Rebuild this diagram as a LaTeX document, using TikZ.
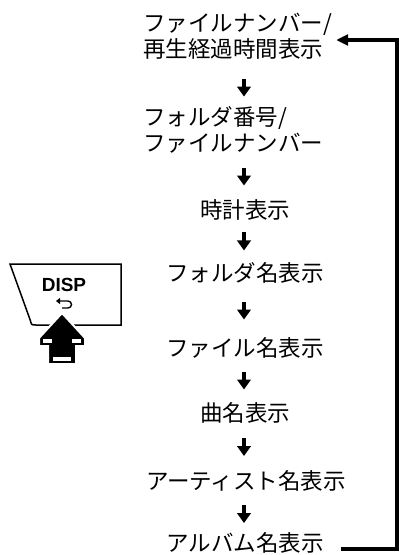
\documentclass[tikz,border=0pt]{standalone}
\usepackage{fontspec}
\newfontfamily\jpfont{Noto Sans CJK JP}
\newfontfamily\keyfont{Liberation Sans}
\usetikzlibrary{calc,arrows.meta}
\newcommand{\steparrow}[3][.5]{\path ($(#2.south)!#1!(#3.north)$) coordinate (mid);
    \draw[flowarrow] (col |- mid) ++(0,-9) -- ++(0,18);}

\begin{document}
\begin{tikzpicture}[x=1pt,y=-1pt,
    jtext/.style={inner sep=0pt,font=\jpfont\fontsize{22.5}{26}\selectfont},
    flowarrow/.style={line width=4.5pt,-{Triangle[length=10pt,width=13.5pt]}},
    returnline/.style={line width=4.5pt,-{Triangle[length=12pt,width=11pt]}}]
    \useasboundingbox (0,0) rectangle (399,555);
    \coordinate (col) at (244,0);
    \node[jtext,anchor=west,align=left] (fnum) at (143,36) {ファイルナンバー/\\再生経過時間表示};
    \node[jtext,anchor=west,align=left] (fold) at (143,130) {フォルダ番号/\\ファイルナンバー};
    \node[jtext] (clock) at (245,210) {時計表示};
    \node[jtext] (fname) at (245,273) {フォルダ名表示};
    \node[jtext] (file) at (245,348) {ファイル名表示};
    \node[jtext] (song) at (245,413) {曲名表示};
    \node[jtext] (artist) at (246,481) {アーティスト名表示};
    \node[jtext] (album) at (245,543) {アルバム名表示};
    \steparrow[.6]{fnum}{fold}
    \steparrow{fold}{clock}
    \steparrow{clock}{fname}
    \steparrow{fname}{file}
    \steparrow{file}{song}
    \steparrow{song}{artist}
    \steparrow[.55]{artist}{album}
    \coordinate (corner) at (397,40);
    \draw[returnline] ([xshift=17pt,yshift=-6pt]album.east) -| (corner) -- ([xshift=4pt,yshift=-4pt]fnum.east);
    \draw[line width=1.5pt] (10,264) -- (121,264) -- (121,325) -- (36,325) .. controls (31.5,325) .. (30.3,320.3) -- cycle;
    \node[inner sep=0pt,font=\keyfont\bfseries\fontsize{19}{19}\selectfont] (disp) at (64,285) {DISP};
    \draw[line width=1.4pt,-{Triangle[length=4pt,width=6pt]}] (62,308) -- (68,308) arc(90:-90:3.5) -- (56,301);
    \filldraw[fill=black,draw=white,line width=2pt] (62,313) -- (85,338) -- (85,346) -- (76,346) -- (76,364) -- (48,364) -- (48,346) -- (39,346) -- (39,338) -- cycle;
    \fill[white] (43,339) rectangle (52,343);
    \fill[white] (72,339) rectangle (81,343);
    \fill[white] (53,356.5) rectangle (71,360.5);
\end{tikzpicture}
\end{document}
